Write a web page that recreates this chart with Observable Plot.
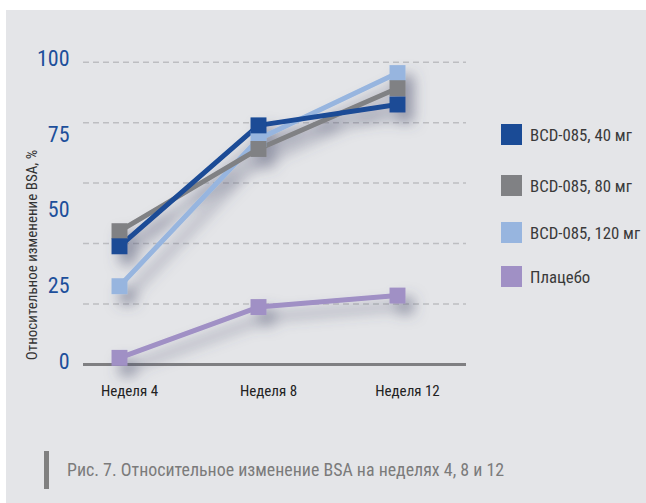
<!DOCTYPE html>
<html><head><meta charset="utf-8">
<script src="https://cdn.jsdelivr.net/npm/d3@7"></script>
<script src="https://cdn.jsdelivr.net/npm/@observablehq/plot@0.6"></script>
<style>
body{margin:0;background:#fff;}
#wrap{position:relative;width:646px;height:503px;overflow:hidden;font-family:"Roboto Condensed",sans-serif;}
#panel{position:absolute;left:6px;top:10px;right:0;bottom:0;background:#e4e5e8;}
#chart{position:absolute;left:0;top:0;}
#ytitle{position:absolute;left:32px;top:255px;transform:translate(-50%,-50%) rotate(-90deg);font-size:15px;color:#333;white-space:nowrap;}
#legend{position:absolute;left:501px;top:124px;}
.item{position:absolute;left:0;display:flex;align-items:center;white-space:nowrap;}
.sw{width:21px;height:21px;margin-right:8px;flex:none;}
.lab{font-size:16.8px;color:#3a3a3a;}
#caption{position:absolute;left:44px;top:451px;height:38px;border-left:5px solid #808080;padding-left:18px;font-size:17.9px;color:#7b7b7b;line-height:38px;white-space:nowrap;}
</style></head>
<body>
<div id="wrap">
  <div id="panel"></div>
  <div id="chart"></div>
  <div id="ytitle"></div>
  <div id="legend"></div>
  <div id="caption"></div>
</div>
<script>
// ---- data ----
const weeks = ["Неделя 4", "Неделя 8", "Неделя 12"];
const series = ["BCD-085, 40 мг", "BCD-085, 80 мг", "BCD-085, 120 мг", "Плацебо"];
const v40 = [39.1, 79.1, 86.0];
const v80 = [44.1, 71.3, 91.4];
const v120 = [25.9, 74.6, 96.4];
const placebo = [2.2, 19.0, 22.8];
const yTicks = [0, 25, 50, 75, 100];
const gridValues = [20, 40, 60, 80, 100];
const yTitle = "Относительное изменение BSA, %";
const captionText = "Рис. 7. Относительное изменение BSA на неделях 4, 8 и 12";

// ---- styles / layout ----
const colors = ["#1a4b96", "#808184", "#97b5df", "#a090c5"];
const drawOrder = [3, 2, 1, 0];
const legendTops = [0, 51, 98, 142];
const FONT = '"Roboto Condensed",sans-serif';

const valuesBySeries = [v40, v80, v120, placebo];
const table = [];
for (const i of drawOrder) {
  weeks.forEach((w, j) => table.push({series: series[i], week: w, value: valuesBySeries[i][j]}));
}

const plot = Plot.plot({
  width: 646,
  height: 420,
  marginLeft: 83,
  marginRight: 180,
  marginTop: 50,
  marginBottom: 56,
  style: {background: "transparent", fontFamily: FONT, overflow: "visible"},
  x: {type: "point", domain: weeks, range: [119, 397], padding: 0, axis: null},
  y: {domain: [0, 100], range: [364, 61.7], axis: null},
  color: {domain: series, range: colors},
  marks: [
    Plot.ruleY(gridValues, {stroke: "#bdbec1", strokeWidth: 1.5, strokeDasharray: "6,4"}),
    Plot.ruleY([0], {stroke: "#7f7f82", strokeWidth: 3}),
    Plot.line(table, {x: "week", y: "value", z: "series", stroke: "series", strokeWidth: 5}),
    Plot.dot(table, {x: "week", y: "value", fill: "series", symbol: "square", r: 9, stroke: "none"}),
    Plot.text(yTicks, {y: d => d, text: d => String(d), frameAnchor: "left", textAnchor: "end",
      dx: -14, dy: -3, fill: "#1d4f9b", fontSize: 22, fontFamily: FONT}),
    Plot.text(weeks, {x: d => d, text: d => d, frameAnchor: "bottom", dx: 10, dy: 31,
      fill: "#222", fontSize: 15, fontFamily: FONT})
  ]
});

// soft drop shadow under lines and squares
const svg = d3.select(plot);
const defs = svg.insert("defs", ":first-child");
const f = defs.append("filter").attr("id", "shadow").attr("filterUnits", "userSpaceOnUse")
  .attr("x", 0).attr("y", 0).attr("width", 646).attr("height", 420);
f.append("feGaussianBlur").attr("in", "SourceAlpha").attr("stdDeviation", 7).attr("result", "b");
f.append("feOffset").attr("in", "b").attr("dx", 8).attr("dy", 10).attr("result", "o");
f.append("feFlood").attr("flood-color", "#4a4e6c").attr("flood-opacity", 0.55).attr("result", "c");
f.append("feComposite").attr("in", "c").attr("in2", "o").attr("operator", "in").attr("result", "s");
const mg = f.append("feMerge");
mg.append("feMergeNode").attr("in", "s");
mg.append("feMergeNode").attr("in", "SourceGraphic");
const lineG = svg.select('g[aria-label="line"]').node();
const dotG = svg.select('g[aria-label="dot"]').node();
if (lineG && dotG) {
  const wrapG = document.createElementNS("http://www.w3.org/2000/svg", "g");
  lineG.parentNode.insertBefore(wrapG, lineG);
  wrapG.appendChild(lineG);
  wrapG.appendChild(dotG);
  wrapG.setAttribute("filter", "url(#shadow)");
}
document.getElementById("chart").appendChild(plot);

// legend
const legend = document.getElementById("legend");
series.forEach((s, i) => {
  const item = document.createElement("div");
  item.className = "item";
  item.style.top = legendTops[i] + "px";
  const sw = document.createElement("div");
  sw.className = "sw";
  sw.style.background = colors[i];
  const lab = document.createElement("span");
  lab.className = "lab";
  lab.textContent = s;
  item.appendChild(sw);
  item.appendChild(lab);
  legend.appendChild(item);
});
document.getElementById("ytitle").textContent = yTitle;
document.getElementById("caption").textContent = captionText;
</script>
</body></html>
